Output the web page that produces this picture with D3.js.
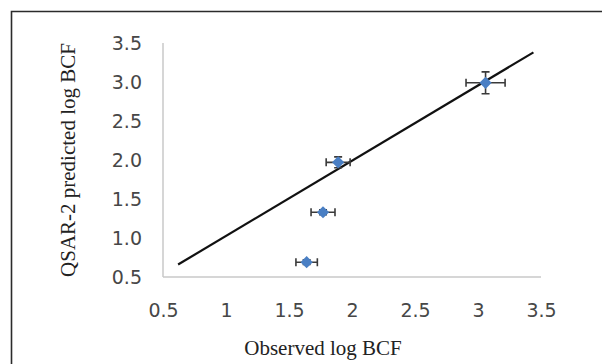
<!DOCTYPE html>
<html>
<head>
<meta charset="utf-8">
<script src="https://cdn.jsdelivr.net/npm/d3@7"></script>
<style>
  body { margin: 0; background: #fff; }
  svg { display: block; }
</style>
</head>
<body>
<div id="chart"></div>
<script>
// observed vs predicted log BCF
const observed = [1.64, 1.77, 1.89, 3.06];
const predicted = [0.69, 1.33, 1.97, 2.99];
const xErr = [0.085, 0.095, 0.095, 0.155];
const yErr = [0.03, 0.03, 0.07, 0.14];
const trendX = [0.62, 3.44];
const trendY = [0.66, 3.38];
const xTicks = [0.5, 1, 1.5, 2, 2.5, 3, 3.5];
const yTicks = [0.5, 1.0, 1.5, 2.0, 2.5, 3.0, 3.5];

const width = 602, height = 364;

const svg = d3.select("#chart")
  .append("svg")
  .attr("width", width)
  .attr("height", height);

// frame (top + left only)
svg.append("path")
  .attr("d", `M11.5,${height} V11.5 H${width}`)
  .attr("fill", "none")
  .attr("stroke", "#2b2b2b")
  .attr("stroke-width", 1.6);

const x = d3.scaleLinear().domain([0.5, 3.5]).range([163, 541]);
const y = d3.scaleLinear().domain([0.5, 3.5]).range([277, 43]);

// axis lines
svg.append("line")
  .attr("x1", x(0.5)).attr("x2", x(3.5))
  .attr("y1", y(0.5)).attr("y2", y(0.5))
  .attr("stroke", "#c8c8c8").attr("stroke-width", 1.5);
svg.append("line")
  .attr("x1", x(0.5)).attr("x2", x(0.5))
  .attr("y1", y(0.5)).attr("y2", y(3.5))
  .attr("stroke", "#c8c8c8").attr("stroke-width", 1.5);

// tick labels
const xAxis = svg.append("g")
  .attr("transform", `translate(0, ${y(0.5) + 37})`)
  .call(d3.axisBottom(x).tickValues(xTicks).tickSize(0).tickFormat(d3.format("")));
xAxis.select(".domain").remove();
xAxis.selectAll("text")
  .attr("dy", 0)
  .attr("font-family", "'DejaVu Sans', sans-serif")
  .attr("font-size", 19)
  .attr("fill", "#474747");

const yAxis = svg.append("g")
  .attr("transform", `translate(${x(0.5) - 21}, 0)`)
  .call(d3.axisLeft(y).tickValues(yTicks).tickSize(0).tickFormat(d3.format(".1f")));
yAxis.select(".domain").remove();
yAxis.selectAll("text")
  .attr("x", 0)
  .attr("font-family", "'DejaVu Sans', sans-serif")
  .attr("font-size", 19)
  .attr("fill", "#474747");

// axis titles
svg.append("text")
  .attr("x", 323).attr("y", 355)
  .attr("text-anchor", "middle")
  .attr("font-family", "'Liberation Serif', 'Times New Roman', serif")
  .attr("font-size", 21)
  .attr("fill", "#222")
  .text("Observed log BCF");

svg.append("text")
  .attr("transform", "translate(75, 160) rotate(-90)")
  .attr("text-anchor", "middle")
  .attr("font-family", "'Liberation Serif', 'Times New Roman', serif")
  .attr("font-size", 21)
  .attr("fill", "#222")
  .text("QSAR-2 predicted log BCF");

// trend line
svg.append("line")
  .attr("x1", x(trendX[0])).attr("y1", y(trendY[0]))
  .attr("x2", x(trendX[1])).attr("y2", y(trendY[1]))
  .attr("stroke", "#111").attr("stroke-width", 2.2);

const pts = observed.map((d, i) => ({ x: d, y: predicted[i], ex: xErr[i], ey: yErr[i] }));
const cap = 4;

const err = svg.append("g")
  .attr("stroke", "#3a3a3a")
  .attr("stroke-width", 1.6)
  .selectAll("g")
  .data(pts)
  .join("g");

err.append("path")
  .attr("d", d => {
    const x0 = x(d.x - d.ex), x1 = x(d.x + d.ex), cy = y(d.y);
    return `M${x0},${cy}H${x1}M${x0},${cy - cap}V${cy + cap}M${x1},${cy - cap}V${cy + cap}`;
  })
  .attr("fill", "none");

err.append("path")
  .attr("d", d => {
    const y0 = y(d.y - d.ey), y1 = y(d.y + d.ey), cx = x(d.x);
    return `M${cx},${y0}V${y1}M${cx - cap},${y0}H${cx + cap}M${cx - cap},${y1}H${cx + cap}`;
  })
  .attr("fill", "none");

svg.append("g")
  .selectAll("path")
  .data(pts)
  .join("path")
  .attr("transform", d => `translate(${x(d.x)},${y(d.y)})`)
  .attr("d", d3.symbol(d3.symbolDiamond2, 95))
  .attr("fill", "#4a7fc4");
</script>
</body>
</html>
